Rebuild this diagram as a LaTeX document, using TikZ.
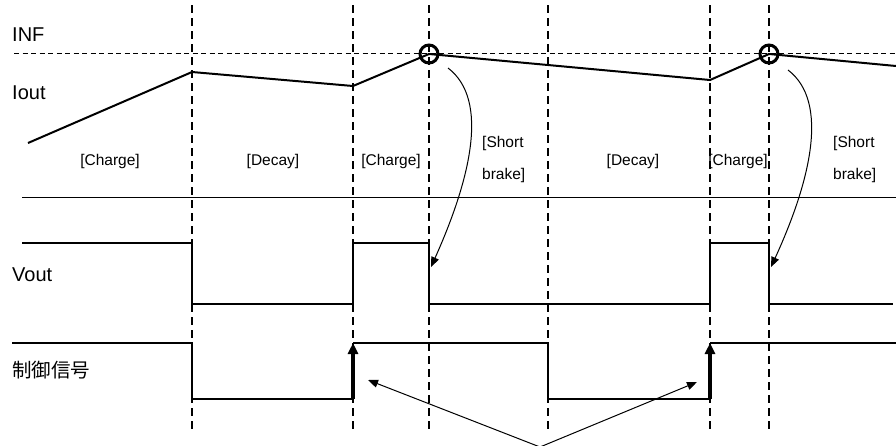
\documentclass[tikz,border=0pt]{standalone}
\usepackage{fontspec}
\setmainfont{Liberation Sans}
\newfontfamily\cjkfont{Noto Sans CJK JP}
\usetikzlibrary{arrows.meta}
\begin{document}
\begin{tikzpicture}[x=1pt,y=-1pt,
  gridline/.style={line width=1.6pt, dash pattern=on 8pt off 5pt},
  infline/.style={line width=1pt, dash pattern=on 5pt off 3.5pt},
  wave/.style={line width=1.6pt, line join=miter},
  thickwave/.style={line width=2.6pt, line join=miter},
  ioutline/.style={line width=2pt, line join=miter},
  marker/.style={line width=3pt},
  biglabel/.style={font=\fontsize{20}{22}\selectfont, anchor=west, inner sep=0pt},
  phase/.style={font=\fontsize{15.5}{17}\selectfont, inner sep=0pt},
  pointer/.style={line width=1pt, -{Triangle[length=10pt,width=8pt]}},
  risearrow/.style={line width=3.5pt, -{Triangle[length=11pt,width=10pt]}}
]
\useasboundingbox (0,0) rectangle (896,445);
% vertical dashed grid lines
\foreach \x/\n in {192/a,353/b,429/c,548/d,710/e,769/f}{
  \coordinate (top\n) at (\x,5);
  \coordinate (bot\n) at (\x,432);
  \draw[gridline] (top\n) -- (bot\n);
}
% INF level and separator
\coordinate (infL) at (14,53);
\coordinate (infR) at (896,53);
\draw[infline] (infL) -- (infR);
\coordinate (sepL) at (22,197);
\coordinate (sepR) at (896,197);
\draw[line width=0.8pt] (sepL) -- (sepR);
% labels
\node[biglabel] (inf) at (12,35) {INF};
\node[biglabel] (iout) at (12,93) {Iout};
\node[biglabel] (vout) at (12,275) {Vout};
\node[biglabel,font=\cjkfont\fontsize{19.5}{22}\selectfont] (ctrl) at (12,370) {制御信号};
\node[phase] (ph1) at (110,161) {[Charge]};
\node[phase] (ph2) at (273,161) {[Decay]};
\node[phase] (ph3) at (391,161) {[Charge]};
\node[phase,anchor=west] (ph4a) at (482,143) {[Short};
\node[phase,anchor=west] (ph4b) at (482,175) {brake]};
\node[phase] (ph5) at (633,161) {[Decay]};
\node[phase] (ph6) at (738,161) {[Charge]};
\node[phase,anchor=west] (ph7a) at (833,143) {[Short};
\node[phase,anchor=west] (ph7b) at (833,175) {brake]};
% Iout waveform
\coordinate (i0) at (28,143);
\coordinate (i1) at (192,72);
\coordinate (i2) at (353,86);
\coordinate (i3) at (429,54);
\coordinate (i4) at (710,80);
\coordinate (i5) at (769,54);
\coordinate (i6) at (896,66);
\draw[ioutline] (i0) -- (i1) -- (i2) -- (i3) -- (i4) -- (i5) -- (i6);
\draw[marker] (i3) circle (9);
\draw[marker] (i5) circle (9);
% Vout waveform
\draw[wave] (22,243) -- (192,243) -- (192,304) -- (353,304) -- (353,243)
  -- (429,243) -- (429,304) -- (710,304) -- (710,243) -- (769,243)
  -- (769,304) -- (893,304);
% control signal
\coordinate (c1lo) at (353,399);
\coordinate (c1hi) at (353,343);
\coordinate (c2lo) at (710,399);
\coordinate (c2hi) at (710,343);
\draw[wave] (12,343) -- (192,343) -- (192,399) -- (c1lo);
\draw[thickwave] (c1hi) -- (548,343) -- (548,399) -- (c2lo);
\draw[wave] (c2hi) -- (896,343);
\draw[risearrow] (c1lo) -- (c1hi);
\draw[risearrow] (c2lo) -- (c2hi);
% curved arrows from the circles to the Vout falling edges
\coordinate (s1) at (448,68);
\coordinate (t1) at (431,267);
\coordinate (s2) at (788,70);
\coordinate (t2) at (771,267);
\draw[pointer] (s1) .. controls (490,100) and (470,180) .. (t1);
\draw[pointer] (s2) .. controls (830,102) and (810,182) .. (t2);
% pointer arrows from bottom
\coordinate (apex) at (540,447);
\coordinate (p1) at (368,380);
\coordinate (p2) at (697,382);
\draw[pointer] (apex) -- (p1);
\draw[pointer] (apex) -- (p2);
\end{tikzpicture}
\end{document}
